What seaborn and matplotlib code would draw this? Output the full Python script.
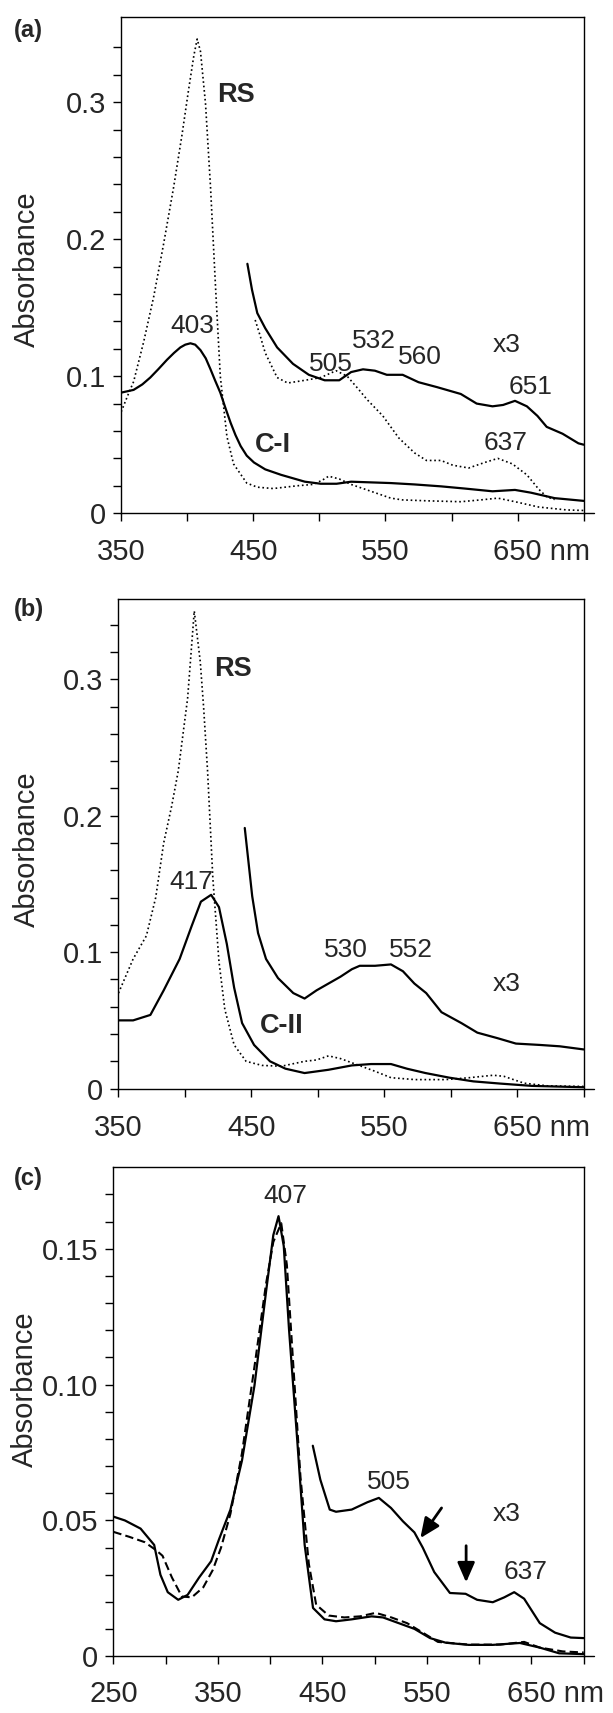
import matplotlib

matplotlib.use("Agg")

import matplotlib.pyplot as plt
import matplotlib.transforms as mtransforms
import seaborn as sns
from matplotlib.ticker import FixedFormatter, FixedLocator

# ---- panel (a): RS vs C-I ----
A_RS_NM = [350, 355, 359.4, 367, 374.6, 382, 389.7, 396, 401, 405, 407.5, 410, 413.8, 417.6,
           421.4, 425, 430, 435, 445, 453, 465, 483, 495, 502, 507, 515, 524, 539, 554, 563,
           583, 607, 622, 635, 648, 666, 687, 700]
A_RS_ABS = [0.074, 0.086, 0.096, 0.125, 0.158, 0.196, 0.238, 0.276, 0.309, 0.334, 0.346, 0.337,
            0.299, 0.238, 0.165, 0.100, 0.056, 0.036, 0.022, 0.019, 0.018, 0.020, 0.021, 0.024,
            0.027, 0.025, 0.021, 0.016, 0.011, 0.0097, 0.009, 0.0084, 0.0097, 0.011, 0.0084,
            0.0045, 0.0024, 0.002]
A_CI_NM = [350, 359.4, 366, 372, 378, 384.7, 390, 394.8, 398.5, 402.4, 406, 410, 414, 417.6,
           421, 425, 428.8, 432.8, 436.5, 440.4, 445, 450.5, 459, 471, 489, 501, 513, 524, 554,
           572, 592, 610, 631, 648, 660, 678, 700]
A_CI_ABS = [0.088, 0.090, 0.094, 0.099, 0.105, 0.112, 0.117, 0.121, 0.123, 0.124, 0.123, 0.119,
            0.113, 0.105, 0.097, 0.088, 0.077, 0.066, 0.057, 0.049, 0.042, 0.037, 0.032, 0.028,
            0.023, 0.0215, 0.0215, 0.023, 0.022, 0.021, 0.0196, 0.018, 0.016, 0.017, 0.015,
            0.011, 0.009]
A_CI_X3_NM = [445.5, 449, 453, 459, 468, 480, 492, 504, 515, 524, 533, 542, 551, 563, 575, 589,
              607, 619, 631, 639, 648, 657, 665, 672, 684, 696, 700]
A_CI_X3_ABS = [0.182, 0.163, 0.146, 0.135, 0.121, 0.109, 0.101, 0.097, 0.097, 0.103, 0.105,
               0.104, 0.101, 0.101, 0.0956, 0.092, 0.087, 0.080, 0.078, 0.079, 0.082, 0.078,
               0.071, 0.063, 0.058, 0.051, 0.050]
A_RS_X3_NM = [451.4, 455, 459, 468, 476, 489, 501, 512.6, 521, 530, 536, 548, 560, 572, 581, 592,
              601, 613, 625, 635, 646, 657, 666, 672, 678]
A_RS_X3_ABS = [0.141, 0.130, 0.117, 0.099, 0.095, 0.097, 0.099, 0.104, 0.100, 0.090, 0.083,
               0.071, 0.055, 0.044, 0.0385, 0.0385, 0.035, 0.033, 0.037, 0.040, 0.036, 0.028,
               0.0175, 0.012, 0.010]

# ---- panel (b): RS vs C-II ----
B_RS_NM = [350, 361, 371, 378, 384, 390, 395, 402, 407, 411.5, 414, 417, 421, 425.6, 430, 437,
           446, 458, 472.6, 490, 499, 508, 517, 531, 543, 555, 573, 596, 614, 632, 640, 655, 673,
           700]
B_RS_ABS = [0.070, 0.095, 0.112, 0.140, 0.180, 0.207, 0.233, 0.286, 0.350, 0.313, 0.280, 0.233,
            0.154, 0.093, 0.058, 0.032, 0.020, 0.017, 0.0164, 0.020, 0.021, 0.024, 0.022, 0.017,
            0.0127, 0.008, 0.0066, 0.0066, 0.008, 0.0098, 0.009, 0.004, 0.002, 0.0016]
B_CII_NM = [350, 361, 374, 384, 396, 405, 412, 419.7, 425.6, 431.5, 437, 443, 452, 464, 475.6,
            490, 508, 525.6, 540, 555, 567, 581, 599, 617, 637, 661, 700]
B_CII_ABS = [0.050, 0.050, 0.054, 0.072, 0.095, 0.119, 0.137, 0.142, 0.133, 0.106, 0.074, 0.048,
             0.032, 0.020, 0.0146, 0.0114, 0.0138, 0.017, 0.018, 0.018, 0.0146, 0.0114, 0.008,
             0.0053, 0.0037, 0.002, 0.001]
B_CII_X3_NM = [445, 450.6, 455, 461, 470, 481.5, 490, 499, 508, 517, 525.6, 531.5, 543, 555, 564,
               572.6, 581.5, 593, 608, 620, 635, 649, 667, 682, 700]
B_CII_X3_ABS = [0.191, 0.141, 0.114, 0.095, 0.081, 0.070, 0.066, 0.072, 0.077, 0.082, 0.0875,
                0.090, 0.090, 0.091, 0.086, 0.077, 0.070, 0.056, 0.048, 0.041, 0.037, 0.033,
                0.032, 0.031, 0.0287]

# ---- panel (c) ----
C_SOLID_NM = [250, 261, 276, 289, 295, 302, 312, 321, 332, 343.5, 351, 362, 373, 385, 396, 403,
              408, 413, 418, 426, 433, 441, 452, 463, 478, 497, 508, 523, 538, 553, 568, 590,
              613, 639, 658, 676.5, 700]
C_SOLID_ABS = [0.0514, 0.050, 0.047, 0.041, 0.030, 0.0236, 0.0208, 0.0226, 0.029, 0.035, 0.043,
               0.054, 0.072, 0.0997, 0.134, 0.155, 0.162, 0.151, 0.1205, 0.079, 0.041, 0.0178,
               0.0136, 0.0129, 0.0136, 0.0147, 0.0143, 0.0122, 0.0101, 0.0067, 0.005, 0.0042,
               0.0042, 0.0049, 0.0032, 0.0011, 0.0008]
C_DASH_NM = [250, 265, 280, 291, 297, 306, 315.5, 325, 336, 345, 353, 362, 373, 385, 396, 403,
             410.6, 416, 422, 429, 437, 444, 456, 471, 486, 501, 516, 531, 546, 560.5, 590, 620,
             643, 658, 680, 700]
C_DASH_ABS = [0.0458, 0.044, 0.042, 0.039, 0.037, 0.029, 0.022, 0.0217, 0.0254, 0.0317, 0.040,
              0.0525, 0.0747, 0.1067, 0.137, 0.1525, 0.1594, 0.144, 0.108, 0.066, 0.034, 0.019,
              0.015, 0.0143, 0.0147, 0.016, 0.0143, 0.0122, 0.0087, 0.0053, 0.0043, 0.0043,
              0.0053, 0.0032, 0.0018, 0.0014]
C_X3_NM = [440.8, 448, 457, 463, 478, 493, 504, 515.6, 527, 538, 546, 557, 572, 587, 598, 613,
           624, 633.5, 643, 658, 672.6, 687.6, 700]
C_X3_ABS = [0.0775, 0.065, 0.054, 0.0532, 0.054, 0.0567, 0.0583, 0.0546, 0.0497, 0.0456, 0.040,
            0.031, 0.0233, 0.023, 0.0208, 0.0199, 0.0217, 0.0236, 0.0212, 0.0122, 0.0087, 0.0069,
            0.0067]

X_TICKS_AB = [350, 450, 550, 650]
X_LABELS_AB = ["350", "450", "550", "650 nm"]
X_TICKS_C = [250, 350, 450, 550, 650]
X_LABELS_C = ["250", "350", "450", "550", "650 nm"]
Y_TICKS_AB = [0, 0.1, 0.2, 0.3]
Y_LABELS_AB = ["0", "0.1", "0.2", "0.3"]
Y_TICKS_C = [0, 0.05, 0.10, 0.15]
Y_LABELS_C = ["0", "0.05", "0.10", "0.15"]

SOLID = dict(color="black", linewidth=1.6)
DOTTED = dict(color="black", linewidth=1.2, linestyle=":")
DASHED = dict(color="black", linewidth=1.5, linestyle=(0, (4, 2)))
NUM_FONT = 19
BOLD_FONT = 19.5
TICK_FONT = 21


def curve(ax, nm, absorb, style):
    sns.lineplot(x=nm, y=absorb, ax=ax, legend=False, **style)


def style_axis(fig, ax, xlim, xticks, xlabels, xminor, ylim, yticks, ylabels, yminor,
               label_xy, xpad):
    ax.set_xlim(*xlim)
    ax.set_ylim(*ylim)
    ax.xaxis.set_major_locator(FixedLocator(xticks))
    ax.xaxis.set_major_formatter(FixedFormatter(xlabels))
    ax.xaxis.set_minor_locator(FixedLocator(xminor))
    ax.yaxis.set_major_locator(FixedLocator(yticks))
    ax.yaxis.set_major_formatter(FixedFormatter(ylabels))
    ax.yaxis.set_minor_locator(FixedLocator(yminor))
    ax.tick_params(axis="both", which="both", direction="out", width=1.0, color="black")
    ax.tick_params(axis="both", which="major", length=6, labelsize=TICK_FONT)
    ax.tick_params(axis="both", which="minor", length=5.5)
    ax.tick_params(axis="x", which="major", pad=xpad)
    ax.tick_params(axis="y", which="major", pad=5)
    for spine in ax.spines.values():
        spine.set_visible(True)
        spine.set_linewidth(1.0)
        spine.set_color("black")
    # baseline runs a little past the right frame, as in the original figure
    ax.plot([1.0, 1.022], [0, 0], transform=ax.transAxes, color="black", lw=1.0, clip_on=False)
    ax.set_xlabel("")
    ax.set_ylabel("Absorbance", fontsize=TICK_FONT)
    ax.yaxis.set_label_coords(*label_xy)
    ax.grid(False)
    # keep "650" centred on its tick and let " nm" trail to the right
    last = ax.get_xticklabels()[-1]
    last.set_horizontalalignment("left")
    shift = mtransforms.ScaledTranslation(-0.834 * TICK_FONT / 72, 0, fig.dpi_scale_trans)
    last.set_transform(last.get_transform() + shift)


def main() -> None:
    sns.set_theme(style="ticks")
    plt.rcParams["font.family"] = ["Liberation Sans", "DejaVu Sans"]

    fig = plt.figure(figsize=(6.13, 17.13), dpi=100)
    ax_a = fig.add_axes([0.1977, 0.7004, 0.7545, 0.2896])
    ax_b = fig.add_axes([0.1933, 0.3645, 0.7589, 0.2860])
    ax_c = fig.add_axes([0.1850, 0.0331, 0.7672, 0.2855])

    minor_ab = [400, 500, 600, 700]
    y_minor_ab = [0.02, 0.04, 0.06, 0.08, 0.12, 0.14, 0.16, 0.18, 0.22, 0.24, 0.26, 0.28, 0.32,
                  0.34]

    # (a)
    curve(ax_a, A_RS_NM, A_RS_ABS, DOTTED)
    curve(ax_a, A_CI_NM, A_CI_ABS, SOLID)
    curve(ax_a, A_CI_X3_NM, A_CI_X3_ABS, SOLID)
    curve(ax_a, A_RS_X3_NM, A_RS_X3_ABS, DOTTED)
    style_axis(fig, ax_a, (350, 700), X_TICKS_AB, X_LABELS_AB, minor_ab, (0, 0.362),
               Y_TICKS_AB, Y_LABELS_AB, y_minor_ab, (-0.173, 0.492), 12)
    ax_a.text(437, 0.3055, "RS", fontsize=BOLD_FONT, fontweight="bold", ha="center",
              va="center")
    ax_a.text(465, 0.050, "C-I", fontsize=BOLD_FONT, fontweight="bold", ha="center",
              va="center")
    for x, y, s in [(403.5, 0.1367, "403"), (508.7, 0.109, "505"), (541, 0.126, "532"),
                    (576, 0.114, "560"), (641.5, 0.123, "x3"), (660, 0.092, "651"),
                    (641, 0.0516, "637")]:
        ax_a.text(x, y, s, fontsize=NUM_FONT, ha="center", va="center")

    # (b)
    curve(ax_b, B_RS_NM, B_RS_ABS, DOTTED)
    curve(ax_b, B_CII_NM, B_CII_ABS, SOLID)
    curve(ax_b, B_CII_X3_NM, B_CII_X3_ABS, SOLID)
    style_axis(fig, ax_b, (350, 700), X_TICKS_AB, X_LABELS_AB, minor_ab, (0, 0.359),
               Y_TICKS_AB, Y_LABELS_AB, y_minor_ab, (-0.167, 0.489), 12)
    ax_b.text(436, 0.3077, "RS", fontsize=BOLD_FONT, fontweight="bold", ha="center",
              va="center")
    ax_b.text(473, 0.0456, "C-II", fontsize=BOLD_FONT, fontweight="bold", ha="center",
              va="center")
    for x, y, s in [(404.5, 0.1517, "417"), (521, 0.1013, "530"), (569.7, 0.1013, "552"),
                    (642, 0.077, "x3")]:
        ax_b.text(x, y, s, fontsize=NUM_FONT, ha="center", va="center")

    # (c)
    curve(ax_c, C_DASH_NM, C_DASH_ABS, DASHED)
    curve(ax_c, C_SOLID_NM, C_SOLID_ABS, SOLID)
    curve(ax_c, C_X3_NM, C_X3_ABS, SOLID)
    style_axis(fig, ax_c, (250, 700), X_TICKS_C, X_LABELS_C, [300, 400, 500, 600, 700],
               (0, 0.18), Y_TICKS_C, Y_LABELS_C,
               [0.01, 0.02, 0.03, 0.04, 0.06, 0.07, 0.08, 0.09, 0.11, 0.12, 0.13, 0.14, 0.16,
                0.17], (-0.158, 0.547), 11)
    for x, y, s in [(414.6, 0.1694, "407"), (514, 0.0643, "505"), (626, 0.0525, "x3"),
                    (644.7, 0.031, "637")]:
        ax_c.text(x, y, s, fontsize=NUM_FONT, ha="center", va="center")
    arrow = dict(arrowstyle="-|>,head_length=0.8,head_width=0.35", color="black", lw=2.0,
                 shrinkA=0, shrinkB=0, mutation_scale=15)
    ax_c.annotate("", xy=(543.7, 0.0435), xytext=(564, 0.0546), arrowprops=arrow)
    ax_c.annotate("", xy=(587.5, 0.0272), xytext=(587.5, 0.0407), arrowprops=arrow)

    for y, s in [(0.982, "(a)"), (0.644, "(b)"), (0.312, "(c)")]:
        fig.text(0.022, y, s, fontsize=17, fontweight="bold", ha="left", va="center")

    fig.savefig("out.png", dpi=100)
    plt.close(fig)


if __name__ == "__main__":
    main()
